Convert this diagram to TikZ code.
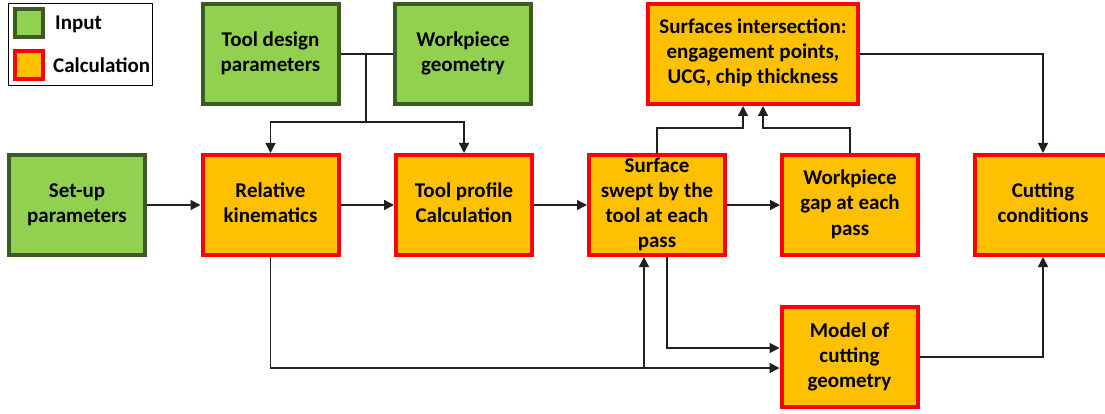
\documentclass[tikz,border=0pt]{standalone}
\usepackage{fontspec}
\setmainfont{Carlito}
\usetikzlibrary{arrows.meta,calc}
\definecolor{ingreen}{HTML}{92D050}
\definecolor{inborder}{HTML}{3B5A24}
\definecolor{calcfill}{HTML}{FFC000}
\definecolor{calcborder}{HTML}{FF0000}
\definecolor{wire}{HTML}{202020}
% stacked, centred lines with even spacing
\newcommand{\boxlines}[1]{\raisebox{-1.5pt}{\begin{tabular}{@{}c@{}}#1\end{tabular}}}
\tikzset{
  box/.style={draw, line width=4pt, minimum width=136pt, minimum height=100pt,
    inner sep=0pt, font=\fontsize{21}{25}\selectfont\bfseries},
  inbox/.style={box, fill=ingreen, draw=inborder},
  calcbox/.style={box, fill=calcfill, draw=calcborder},
  wireline/.style={draw=wire, line width=1.4pt},
  arr/.style={wireline, -{Triangle[length=10pt,width=10pt]}},
  legtext/.style={anchor=base west, inner sep=0pt, font=\fontsize{21}{25}\selectfont\bfseries}
}
\begin{document}
\begin{tikzpicture}[x=1pt,y=-1pt]
\useasboundingbox (0,0) rectangle (1105,414);
\clip (0,0) rectangle (1105,414);
\fill[white] (0,0) rectangle (1105,414);

% legend
\node[draw=black, line width=1.4pt, minimum width=144pt, minimum height=82pt, inner sep=0pt] (legend) at (80.5,44.5) {};
\node[draw=inborder, fill=ingreen, line width=4pt, minimum size=28pt, inner sep=0pt] (leginput) at (29,23.5) {};
\node[draw=calcborder, fill=calcfill, line width=4pt, minimum size=28pt, inner sep=0pt] (legcalc) at (29,65.5) {};
\node[legtext] (legintext) at (55,30) {Input};
\node[legtext] (legcalctext) at (53,73) {Calculation};

% input boxes
\node[inbox] (tdp) at (270.5,54) {\boxlines{Tool design\\parameters}};
\node[inbox] (wpg) at (463,54) {\boxlines{Workpiece\\geometry}};
\node[inbox] (sup) at (77,205) {\boxlines{Set-up\\parameters}};

% calculation boxes
\node[calcbox] (rk) at (270.5,205) {\boxlines{Relative\\kinematics}};
\node[calcbox] (tp) at (464,205) {\boxlines{Tool profile\\Calculation}};
\node[calcbox] (ss) at (657,205) {\boxlines{Surface\\swept by the\\tool at each\\pass}};
\node[calcbox] (wg) at (850,205) {\boxlines{Workpiece\\gap at each\\pass}};
\node[calcbox] (cc) at (1043,205) {\boxlines{Cutting\\conditions}};
\node[calcbox, minimum width=210pt] (si) at (753,54) {\boxlines{Surfaces intersection:\\engagement points,\\UCG, chip thickness}};
\node[calcbox] (mcg) at (849.5,357) {\boxlines{Model of\\cutting\\geometry}};

% inputs feeding the kinematics and tool profile
\coordinate (j1) at (366,54);
\coordinate (j2) at (366,122);
\draw[wireline] (tdp) -- (wpg);
\draw[wireline] (j1) -- (j2);
\draw[arr] (j2) -| (rk.north);
\draw[arr] (j2) -| (tp.north);

% main chain
\draw[arr] (sup) -- (rk);
\draw[arr] (rk) -- (tp);
\draw[arr] (tp) -- (ss);
\draw[arr] (ss) -- (wg);

% into the surfaces intersection
\coordinate (s1) at (743,128);
\coordinate (s2) at (763,128);
\draw[arr] (ss.north) |- (s1) -- (s1 |- si.south);
\draw[arr] (wg.north) |- (s2) -- (s2 |- si.south);
\draw[arr] (si.east) -| (cc.north);

% lower loop through the cutting geometry model
\coordinate (j3) at (644,368);
\draw[arr] (rk.south) |- ($(mcg.west)+(0,11)$);
\draw[arr] (j3) -- (j3 |- ss.south);
\draw[arr] ($(ss.south)+(10,0)$) |- ($(mcg.west)+(0,-9)$);
\draw[arr] (mcg.east) -| (cc.south);
\end{tikzpicture}
\end{document}
